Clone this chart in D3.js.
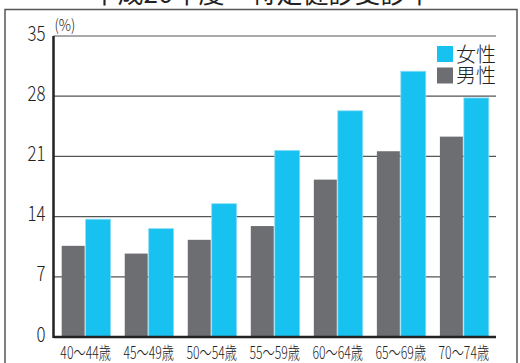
<!DOCTYPE html>
<html>
<head>
<meta charset="utf-8">
<script src="https://cdn.jsdelivr.net/npm/d3@7"></script>
<style>
  body { margin: 0; background: #fff; }
  text { font-family: "Noto Sans CJK JP", "Noto Sans", sans-serif; }
</style>
</head>
<body>
<div id="canvas"></div>
<script>
"use strict"

/* Configuration variables: drawing */
let svgWidth = 520;
let svgHeight = 363;
/* plot area */
let leftMargin = 53.5
let rightMargin = 24
let topMargin = 36
let bottomMargin = 26

/* data (%) */
let ageGroups = ["40～44歳", "45～49歳", "50～54歳", "55～59歳", "60～64歳", "65～69歳", "70～74歳"];
let maleRate = [10.6, 9.7, 11.3, 12.9, 18.3, 21.6, 23.3];
let femaleRate = [13.7, 12.6, 15.5, 21.7, 26.3, 30.9, 27.8];
let yTicks = [0, 7, 14, 21, 28, 35];
let seriesNames = ["女性", "男性"];

let grayColor = "#6d6e72";
let blueColor = "#17c1f0";

let svg = d3.select("#canvas")
    .append("svg")
    .attr("width", svgWidth)
    .attr("height", svgHeight);

/* title, mostly cut off by the top edge */
svg.append("text")
    .attr("x", 262)
    .attr("y", 3)
    .attr("text-anchor", "middle")
    .attr("font-size", 26)
    .attr("fill", "#222")
    .text("平成26年度　特定健診受診率");

/* outer frame */
svg.append("rect")
    .attr("x", 5)
    .attr("y", 9.5)
    .attr("width", 512)
    .attr("height", 370)
    .attr("fill", "none")
    .attr("stroke", "#555")
    .attr("stroke-width", 1.5);

let xScale = d3.scaleBand()
    .domain(ageGroups)
    .range([leftMargin, svgWidth - rightMargin])
    .paddingInner(0.24)
    .paddingOuter(0.13);

let yScale = d3.scaleLinear()
    .domain([0, 35])
    .range([svgHeight - bottomMargin, topMargin]);

let halfBand = xScale.bandwidth() / 2;

/* gridlines */
svg.selectAll(".grid")
    .data(yTicks.slice(1))
    .join("line")
    .attr("class", "grid")
    .attr("x1", leftMargin)
    .attr("x2", svgWidth - rightMargin)
    .attr("y1", d => yScale(d))
    .attr("y2", d => yScale(d))
    .attr("stroke", "#555")
    .attr("stroke-width", 1.2);

/* bars: male (gray) left, female (blue) right */
svg.selectAll(".male")
    .data(maleRate)
    .join("rect")
    .attr("class", "male")
    .attr("x", (d, i) => xScale(ageGroups[i]))
    .attr("y", d => yScale(d))
    .attr("width", halfBand - 1)
    .attr("height", d => yScale(0) - yScale(d))
    .attr("fill", grayColor);

svg.selectAll(".female")
    .data(femaleRate)
    .join("rect")
    .attr("class", "female")
    .attr("x", (d, i) => xScale(ageGroups[i]) + halfBand)
    .attr("y", d => yScale(d))
    .attr("width", halfBand + 1)
    .attr("height", d => yScale(0) - yScale(d))
    .attr("fill", blueColor)
    .attr("stroke", "#8ddcf5")
    .attr("stroke-width", 0.8);

/* axes lines */
svg.append("line")
    .attr("x1", leftMargin)
    .attr("y1", yScale(0))
    .attr("x2", svgWidth - rightMargin)
    .attr("y2", yScale(0))
    .attr("stroke", "#222")
    .attr("stroke-width", 2.5);

svg.append("line")
    .attr("x1", leftMargin)
    .attr("y1", yScale(0) + 1)
    .attr("x2", leftMargin)
    .attr("y2", yScale(35))
    .attr("stroke", "#222")
    .attr("stroke-width", 2.5);

/* y tick labels */
svg.selectAll(".ylab")
    .data(yTicks)
    .join("text")
    .attr("class", "ylab")
    .attr("transform", d => `translate(${leftMargin - 8},${yScale(d) - 1}) scale(0.8,1)`)
    .attr("text-anchor", "end")
    .attr("dominant-baseline", "middle")
    .attr("font-size", 21)
    .attr("font-weight", 300)
    .attr("fill", "#222")
    .text(d => d);

/* unit */
svg.append("text")
    .attr("transform", `translate(${leftMargin + 1},${topMargin - 5}) scale(0.85,1)`)
    .attr("font-size", 16)
    .attr("font-weight", 300)
    .attr("fill", "#222")
    .text("(%)");

/* x labels */
svg.selectAll(".xlab")
    .data(ageGroups)
    .join("text")
    .attr("class", "xlab")
    .attr("transform", d => `translate(${xScale(d) + halfBand},${svgHeight - 4}) scale(0.72,1)`)
    .attr("text-anchor", "middle")
    .attr("font-size", 17)
    .attr("font-weight", 300)
    .attr("fill", "#222")
    .text(d => d);

/* legend: swatches, then both names in one text block */
let legendColors = [blueColor, grayColor];
for (let i = 0; i < 2; i++) {
    svg.append("rect")
        .attr("x", 437)
        .attr("y", 46 + i * 21.5)
        .attr("width", 16)
        .attr("height", 16)
        .attr("fill", legendColors[i]);
}

svg.append("text")
    .attr("font-size", 20)
    .attr("font-weight", 300)
    .attr("fill", "#222")
    .selectAll("tspan")
    .data(seriesNames)
    .join("tspan")
    .attr("x", 456)
    .attr("y", (d, i) => 61.5 + i * 21.5)
    .text(d => d);
</script>
</body>
</html>
